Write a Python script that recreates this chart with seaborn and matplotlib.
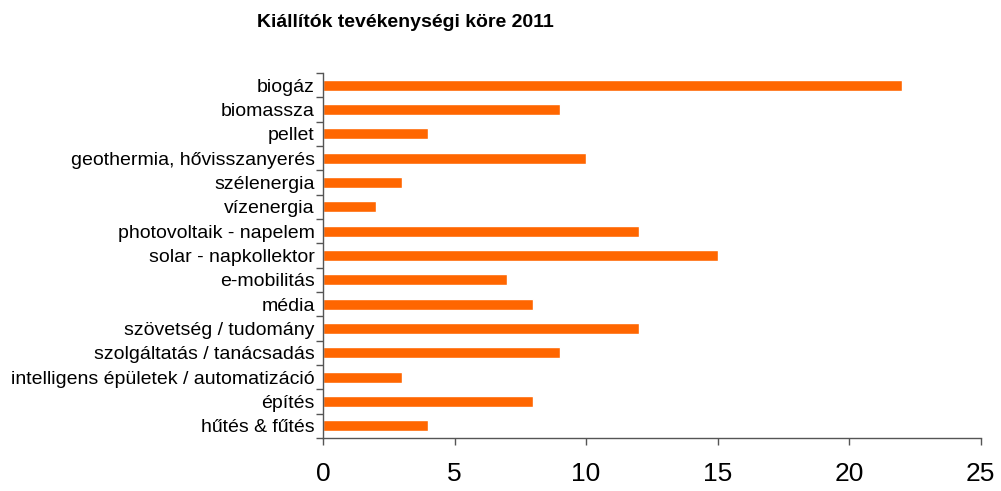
import matplotlib
matplotlib.use('Agg')
import matplotlib.pyplot as plt
import numpy as np
import pandas as pd
import seaborn as sns

categories = ["biogáz", "biomassza", "pellet", "geothermia, hővisszanyerés",
              "szélenergia", "vízenergia", "photovoltaik - napelem",
              "solar - napkollektor", "e-mobilitás", "média",
              "szövetség / tudomány", "szolgáltatás / tanácsadás",
              "intelligens épületek / automatizáció", "építés", "hűtés & fűtés"]
values = [22, 9, 4, 10, 3, 2, 12, 15, 7, 8, 12, 9, 3, 8, 4]
x_ticks = [0, 5, 10, 15, 20, 25]

df = pd.DataFrame({"kategoria": categories, "db": values})

sns.set_style("white")
plt.rcParams['font.family'] = ['Liberation Sans', 'DejaVu Sans']

fig = plt.figure(figsize=(10.01, 4.91), dpi=100)
ax = fig.add_axes([0.3227, 0.108, 0.657, 0.743])

sns.barplot(data=df, x="db", y="kategoria", color="#FF6600", saturation=1,
            width=0.45, ax=ax, orient="h")

ax.set_xlim(0, 25)
ax.set_ylim(len(categories) - 0.5, -0.5)
ax.set_xticks(x_ticks)
ax.set_xticklabels([str(t) for t in x_ticks], fontsize=19)
ax.set_xlabel("")
ax.set_ylabel("")

# Excel-like: ticks between categories
ax.set_yticks(np.arange(-0.5, len(categories), 1), minor=True)
ax.tick_params(axis='y', which='major', length=0, pad=6, labelsize=14, labelcolor='black')
ax.tick_params(axis='y', which='minor', length=5, width=1, color='#555555', left=True)
ax.tick_params(axis='x', which='major', length=5, width=1, color='#555555',
               bottom=True, pad=12, labelcolor='black')

for side in ['top', 'right']:
    ax.spines[side].set_visible(False)
for side in ['left', 'bottom']:
    ax.spines[side].set_color('#555555')
    ax.spines[side].set_linewidth(1)

fig.text(0.405, 0.955, "Kiállítók tevékenységi köre 2011", ha='center', va='center',
         fontsize=14, fontweight='bold', color='black')

fig.savefig("out.png", dpi=100)
